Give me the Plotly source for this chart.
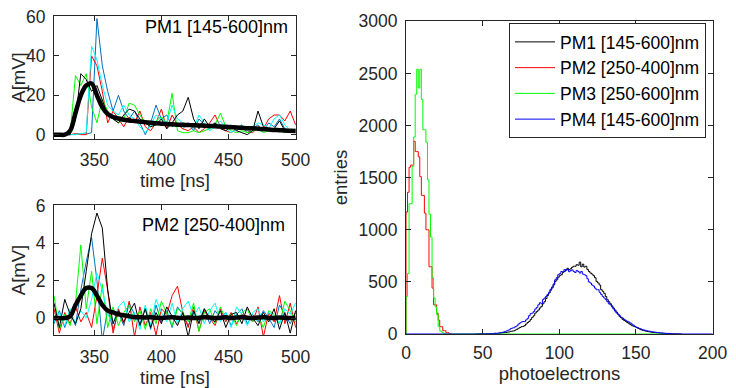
import numpy as np
import plotly.graph_objects as go

# sampling times of the digitised waveforms [ns]
time_ns = np.arange(320, 501, 4)

# PM1 single waveforms and mean [mV]
pm1_blue = [0.5, 0, 0.3, 0, 0.2, 0.5, 0.3, 1, 59, 35, 22, 12, 20, 12, 8, 12, 6, 0, 6, 15, 8, 10, 4, 6, 3, 6, 2, 8, 5, 3,
            6, 4, 3, 5, 2, 4, 1, 3, 5, 2, 6, 4, 8, 3, 2, 1]
pm1_red = [0, 0, 0, 0, 0.5, 0, 0, 40, 35, 22, 6, 12, 8, 4, 9, 6, 12, 4, 2, 6, 13, 3, 10, 5, 3, 2, 4, 1, 3, 6,
           10, 4, 2, 1, 3, 5, 2, 1, 4, 3, 8, 10, 10, 7, 12, 5]
pm1_green = [0, 0, 0, 0.5, 30, 25, 31, 14, 6, 18, 12, 8, 6, 8, 16, 15, 10, 6, 4, 7, 9, 6, 21, 2, 1, 1, 2, 1, 2, 3,
             5, 11, 4, 2, 1, 2, 1, 2, 3, 1, 2, 3, 2, 1, 2, 1]
pm1_cyan = [0, 0, 0, 0.3, 0, 0.5, 1, 45, 38, 25, 15, 12, 10, 15, 10, 8, 4, 1, 5, 10, 8, 6, 15, 8, 6, 5, 3, 10, 6, 2,
            4, 7, 3, 1, 3, 5, 2, 4, 6, 5, 3, 8, 10, 5, 2, 3]
pm1_black = [0, 0, 0, 0, 8, 31, 28, 22, 25, 18, 10, 8, 6, 10, 13, 12, 8, 6, 4, 5, 8, 3, 6, 10, 12, 19, 8, 3, 8, 4,
             6, 3, 2, 4, 2, 1, 0, 2, 12, 4, 2, 3, 7, 2, 1, 2]
pm1_mean = [0, 0, 0, 2, 11, 20, 25, 26, 20, 14, 10.5, 9, 8.2, 7.6, 7.2, 6.9, 6.6, 6.3, 6.1, 5.8, 5.6, 5.4, 5.3,
            5.1, 5.0, 4.9, 4.8, 4.7, 4.5, 4.4, 4.3, 4.1, 4.0, 3.8, 3.7, 3.5, 3.3, 3.2, 3.0, 2.8, 2.6, 2.4, 2.3,
            2.1, 2.0, 1.9]

# PM2 single waveforms and mean [mV]
pm2_blue = [-0.3, 0.4, -0.5, 0.3, -0.4, 1.5, 3.0, 4.3, 2.0, -1.2, 0.5, -0.6, 0.3, -0.4, 0.8, 0.2, -0.3, 0.5, -0.6,
            0.7, -0.2, 0.4, -0.5, 0.6, 0.2, -0.4, 0.3, -0.2, 0.5, -0.3, 0.4, 0.0, 0.3, -0.4, 0.2, 0.5, -0.3, 0.2,
            -0.2, 0.4, 0.0, -0.5, 0.7, 0.2, -0.3, 0.3]
pm2_red = [0.5, -0.8, 0.3, -0.3, 0.6, -0.2, 0.3, -0.5, 1.2, 3.2, 1.5, -0.8, 0.5, -0.3, 0.9, -1.0, 0.6, -0.4, 0.3,
           -0.9, 0.5, 0.2, 1.2, 1.7, 0.3, -0.5, 0.6, -0.7, 0.4, 0.0, -0.4, 0.5, -0.2, 0.3, -0.3, 0.2, 0.1, -0.2,
           0.6, -1.0, 0.3, -0.2, 1.2, -0.3, 0.8, -0.5]
pm2_green = [1.2, -0.6, 0.2, -0.4, 0.8, 3.9, 0.5, 2.5, -0.3, 1.8, -0.5, 0.6, -0.4, 0.3, 0.7, -0.2, 0.4, -0.6, 0.5,
             -0.3, 0.9, 0.2, -0.4, 0.5, 0.3, -0.2, 0.8, -0.7, 0.3, 0.5, -0.3, 0.6, -0.1, 0.2, -0.4, 0.3, 0.5, -0.2,
             0.1, -0.5, 0.4, 0.2, -0.3, 0.9, 0.4, -0.2]
pm2_cyan = [-0.2, 0.3, -0.4, 0.5, -0.3, 0.4, 0.0, 1.0, 2.4, 1.5, 0.2, -0.3, 0.6, 0.9, -0.2, 0.3, -0.6, 0.7, -0.4,
            1.0, 0.3, -0.2, 0.8, -0.3, 0.5, 0.9, 0.1, 0.6, -0.3, 0.4, 0.8, -0.2, 0.3, -0.5, 0.6, 0.2, -0.4, 0.3,
            0.5, -0.2, 0.3, 0.1, -0.3, 0.5, 0.2, 0.8]
pm2_black = [0.8, -0.5, 1.0, 0.2, -0.3, 0.5, 2.5, 4.5, 5.6, 4.8, 1.5, -0.3, 0.4, -0.2, 0.3, 0.8, -0.4, 0.5, -0.5,
             0.3, -0.3, 0.6, 0.1, -0.4, 0.3, -1.0, 0.4, -0.3, 0.5, 0.0, -0.2, 0.4, -0.5, 0.2, 0.3, -0.3, 0.6, 0.0,
             -0.4, 0.3, -0.2, 0.5, -0.6, 0.3, -0.8, 0.4]
pm2_mean = [0, 0, 0, 0.1, 0.7, 1.2, 1.6, 1.6, 1.2, 0.7, 0.4, 0.3, 0.2, 0.15, 0.1, 0.05, 0.05, 0.03, 0.05, 0.02, 0.0,
            0.03, 0.05, 0.02, 0.0, 0.03, 0.0, 0.02, 0.05, 0.03, 0.0, 0.02, 0.04, 0.0, 0.03, 0.05, 0.02, 0.0, 0.03,
            0.05, 0.02, 0.0, 0.03, 0.02, 0.0, 0.02]

# photoelectron spectra, 1 p.e. wide bins
low_start = 0
pm2_counts = [1170, 1360, 1600, 1620, 1620, 1850, 1750, 1750, 1700, 1510, 1330, 1330, 1160, 1000, 1000, 645, 645,
              440, 280, 280, 200, 134, 70, 70, 32, 32, 13, 13, 5, 0]
pm3_counts = [360, 580, 1250, 1250, 1610, 1890, 2300, 2540, 2360, 2540, 2250, 1960, 1960, 1840, 1480, 1150, 930,
              540, 345, 260, 185, 73, 30, 20, 8, 0, 0, 0, 0, 0]
high_start = 45
pm1_counts = [0, 0, 0, 0, 1, 0, 0, 1, 0, 2,
              2, 3, 3, 5, 4, 6, 8, 10, 12, 14,
              15, 18, 20, 25, 28, 30, 38, 45, 55, 62,
              70, 73, 80, 95, 110, 121, 140, 160, 175, 201,
              215, 230, 250, 265, 290, 310, 340, 370, 393, 420,
              450, 480, 505, 520, 545, 560, 569, 590, 600, 617,
              630, 617, 625, 640, 650, 650, 665, 660, 690, 645,
              670, 642, 650, 620, 600, 585, 575, 560, 540, 505,
              490, 470, 425, 410, 390, 360, 329, 310, 290, 270,
              249, 230, 210, 190, 169, 155, 140, 130, 121, 110,
              100, 90, 80, 75, 70, 62, 55, 48, 41, 36,
              32, 28, 24, 22, 19, 17, 15, 13, 11, 10,
              9, 8, 7, 5, 4, 4, 3, 2, 2, 1,
              1, 0, 1, 0, 0]
pm4_counts = [0, 0, 0, 2, 0, 1, 0, 2, 3, 2,
              4, 3, 6, 8, 7, 10, 12, 15, 18, 22,
              28, 35, 40, 52, 57, 60, 70, 78, 95, 105,
              115, 120, 118, 135, 150, 175, 195, 200, 215, 240,
              255, 280, 300, 290, 330, 345, 360, 380, 400, 430,
              441, 470, 520, 540, 569, 580, 600, 595, 617, 610,
              620, 598, 607, 615, 600, 590, 610, 600, 585, 600,
              575, 569, 560, 530, 500, 489, 470, 460, 440, 425,
              425, 400, 380, 360, 345, 330, 310, 290, 281, 260,
              240, 220, 201, 190, 175, 160, 153, 140, 130, 121,
              115, 105, 95, 85, 73, 65, 60, 52, 48, 41,
              38, 35, 30, 28, 25, 22, 19, 18, 16, 14,
              12, 10, 10, 8, 7, 5, 6, 4, 3, 2,
              2, 1, 1, 0, 0]

pm_names = ["PM1 [145-600]nm", "PM2 [250-400]nm", "PM3 [250-600]nm", "PM4 [145-600]nm"]

FONT = "Liberation Sans, Arial, Helvetica, sans-serif"
INK = "#262626"


def stairs(start, counts, x_from, x_to):
    # outline of a histogram as points for a 'hv' line
    xs = [x_from, start] + [start + i for i in range(1, len(counts))] + [start + len(counts), x_to]
    ys = [0, counts[0]] + list(counts[1:]) + [0, 0]
    return xs, ys


fig = go.Figure()

wave_colors = ["#0072BD", "#FF0000", "#00FF00", "#00FFFF", "#000000"]
for ax, waves, mean in [("1", [pm1_blue, pm1_red, pm1_green, pm1_cyan, pm1_black], pm1_mean),
                        ("2", [pm2_blue, pm2_red, pm2_green, pm2_cyan, pm2_black], pm2_mean)]:
    for w, c in zip(waves, wave_colors):
        fig.add_trace(go.Scatter(x=time_ns, y=w, mode="lines", line=dict(color=c, width=1),
                                 xaxis="x" + ax, yaxis="y" + ax, showlegend=False, hoverinfo="skip"))
    fig.add_trace(go.Scatter(x=time_ns, y=mean, mode="lines", line=dict(color="black", width=4.5, shape="spline"),
                             xaxis="x" + ax, yaxis="y" + ax, showlegend=False))

hists = [(high_start, pm1_counts, 45, 180, "#000000"),
         (low_start, pm2_counts, 0, 30, "#FF0000"),
         (low_start, pm3_counts, 0, 170, "#00FF00"),
         (high_start, pm4_counts, 0, 200, "#0000FF")]
for name, (st, cnt, a, b, c) in zip(pm_names, hists):
    xs, ys = stairs(st, cnt, a, b)
    fig.add_trace(go.Scatter(x=xs, y=ys, mode="lines", name=name, line=dict(color=c, width=1, shape="hv"),
                             xaxis="x3", yaxis="y3"))

# the page body has an 8 px margin, so the figure is laid out in window pixels minus that offset
OFF = 8
W, H = 736 - OFF, 388 - OFF


def dx(a, b):
    return [(a - OFF) / W, (b - OFF) / W]


def dy(top, bottom):
    return [1 - (bottom - OFF) / H, 1 - (top - OFF) / H]


def px(x, y):
    return (x - OFF) / W, 1 - (y - OFF) / H


axis_style = dict(showline=True, mirror="ticks", linecolor=INK, linewidth=1, ticks="inside", ticklen=5,
                  tickcolor=INK, showgrid=False, zeroline=False, automargin=False, ticklabeloverflow="allow",
                  tickfont=dict(size=17.5, color=INK))
title_font = dict(size=18.5, color=INK)

ax1, ay1 = px(290, 27)
ax2, ay2 = px(287, 225)
lx, ly = px(706, 23)

fig.update_layout(
    width=W, height=H, margin=dict(l=0, r=0, t=0, b=0, autoexpand=False),
    paper_bgcolor="white", plot_bgcolor="white",
    font=dict(family=FONT, color=INK),
    xaxis1=dict(axis_style, domain=dx(54, 296), range=[320, 500.3], tickvals=[350, 400, 450, 500],
                anchor="y1", ticklabelstandoff=5, title=dict(text="time [ns]", font=title_font, standoff=0)),
    yaxis1=dict(axis_style, domain=dy(16, 139), range=[-2.2, 60.3], tickvals=[0, 20, 40, 60],
                anchor="x1", ticklabelstandoff=4, title=dict(text="A[mV]", font=title_font, standoff=6)),
    xaxis2=dict(axis_style, domain=dx(54, 296), range=[320, 500.3], tickvals=[350, 400, 450, 500],
                anchor="y2", ticklabelstandoff=6, title=dict(text="time [ns]", font=title_font, standoff=4)),
    yaxis2=dict(axis_style, domain=dy(205, 335), range=[-0.9, 6.03], tickvals=[0, 2, 4, 6],
                anchor="x2", ticklabelstandoff=4, title=dict(text="A[mV]", font=title_font, standoff=17)),
    xaxis3=dict(axis_style, domain=dx(406, 713), range=[0, 200.3], tickvals=[0, 50, 100, 150, 200],
                anchor="y3", ticklabelstandoff=3, title=dict(text="photoelectrons", font=title_font, standoff=0)),
    yaxis3=dict(axis_style, domain=dy(21, 334), range=[0, 3003],
                tickvals=[0, 500, 1000, 1500, 2000, 2500, 3000],
                anchor="x3", ticklabelstandoff=4, title=dict(text="entries", font=title_font, standoff=6)),
    legend=dict(x=lx, y=ly, xanchor="right", yanchor="top", bgcolor="white",
                bordercolor=INK, borderwidth=1, font=dict(size=17.5, color="black"), itemwidth=40,
                tracegroupgap=0),
    annotations=[
        dict(text="PM1 [145-600]nm", x=ax1, y=ay1, xref="paper", yref="paper",
             xanchor="right", yanchor="middle", showarrow=False, font=dict(size=18, color="black")),
        dict(text="PM2 [250-400]nm", x=ax2, y=ay2, xref="paper", yref="paper",
             xanchor="right", yanchor="middle", showarrow=False, font=dict(size=18, color="black")),
    ],
)

fig.write_html("out.html")
